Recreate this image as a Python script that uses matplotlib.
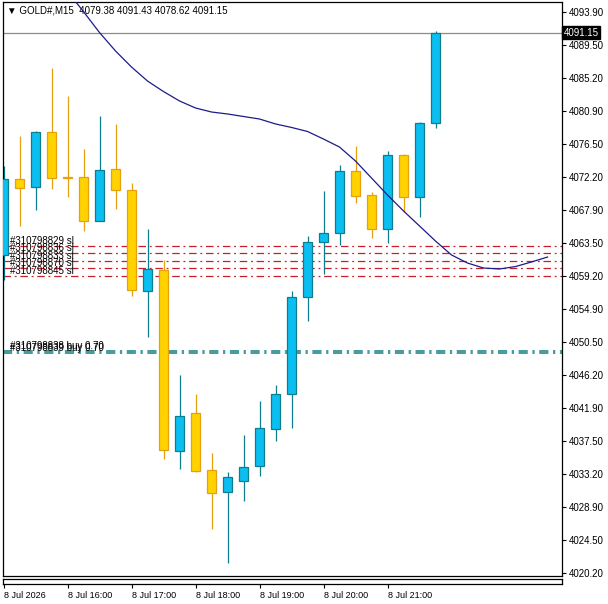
import numpy as np
import matplotlib
matplotlib.use('Agg')
import matplotlib.pyplot as plt
from matplotlib.patches import Rectangle

plt.rcParams['font.family'] = ['Liberation Sans', 'DejaVu Sans']

# GOLD#, M15 bars from 8 Jul 15:00 to 21:45
opens = [4061.98, 4071.96, 4070.87, 4078.13, 4072.20, 4072.22, 4066.48, 4073.27,
         4070.45, 4057.29, 4060.01, 4036.19, 4041.22, 4033.73, 4030.88, 4032.33,
         4034.30, 4039.16, 4043.68, 4056.42, 4063.72, 4064.83, 4073.01, 4069.82,
         4065.35, 4075.11, 4069.56, 4079.38]
highs = [4073.67, 4077.61, 4078.27, 4086.54, 4082.86, 4075.90, 4080.24, 4079.19,
         4071.39, 4065.35, 4061.32, 4046.21, 4043.72, 4035.92, 4033.43, 4038.33,
         4042.83, 4044.90, 4057.29, 4064.47, 4070.42, 4073.80, 4076.29, 4070.25,
         4075.60, 4075.24, 4079.45, 4091.43]
lows = [4058.69, 4065.83, 4067.89, 4070.65, 4069.63, 4065.17, 4066.44, 4068.08,
        4056.59, 4051.24, 4035.14, 4033.82, 4033.53, 4026.02, 4021.55, 4029.70,
        4032.98, 4037.58, 4039.29, 4053.34, 4059.48, 4063.33, 4068.77, 4064.17,
        4063.51, 4067.66, 4066.93, 4078.62]
closes = [4071.96, 4070.74, 4078.13, 4072.05, 4072.10, 4066.48, 4073.14, 4070.55,
          4057.38, 4060.10, 4036.36, 4040.83, 4033.56, 4030.75, 4032.81, 4034.09,
          4039.21, 4043.72, 4056.42, 4063.64, 4064.83, 4073.01, 4069.77, 4065.43,
          4075.11, 4069.56, 4079.38, 4091.15]

# shifted moving average, starts at bar 3 and runs past the last bar
ma_start = 3
ma_values = [4099.4, 4096.6, 4093.94, 4091.2, 4088.78, 4086.67, 4084.83, 4083.45,
             4082.21, 4081.29, 4080.76, 4080.50, 4080.17, 4079.84, 4079.19, 4078.73,
             4078.20, 4077.21, 4076.16, 4074.32, 4072.09, 4069.86, 4067.76, 4065.79,
             4063.81, 4061.98, 4060.92, 4060.27, 4060.14, 4060.46, 4061.06, 4061.71]

# open orders
sl_levels = [4063.16, 4062.20, 4061.23, 4060.23, 4059.22]
sl_labels = ['#310798829 sl', '#310798836 sl', '#310798833 sl', '#310798870 sl', '#310798845 sl']
buy_levels = [4049.40, 4049.10]
buy_labels = ['#310798838 buy 0.70', '#310798839 buy 0.70']

bid = 4091.15
title = '\u25bc GOLD#,M15  4079.38 4091.43 4078.62 4091.15'

ytick_vals = [4093.90, 4089.50, 4085.20, 4080.90, 4076.50, 4072.20, 4067.90, 4063.50,
              4059.20, 4054.90, 4050.50, 4046.20, 4041.90, 4037.50, 4033.20, 4028.90,
              4024.50, 4020.20]
xtick_idx = [0, 4, 8, 12, 16, 20, 24]
xtick_labels = ['8 Jul 2026', '8 Jul 16:00', '8 Jul 17:00', '8 Jul 18:00',
                '8 Jul 19:00', '8 Jul 20:00', '8 Jul 21:00']

W, H = 608, 604
fig = plt.figure(figsize=(W / 100, H / 100), dpi=100)
fig.patch.set_facecolor('white')

left, right, top, bottom = 2.5, 562, 2, 576
ax = fig.add_axes([left / W, (H - bottom) / H, (right - left) / W, (bottom - top) / H])
xlim = (-0.0625, 34.906)
ax.set_xlim(*xlim)
ax.set_ylim(4019.81, 4095.21)

bull_fill, bull_edge = '#0CBFF2', '#0E7D8E'
bear_fill, bear_edge = '#FFD200', '#E6A010'

x = np.arange(len(opens))
for i in x:
    o, h, l, c = opens[i], highs[i], lows[i], closes[i]
    up = c > o
    fill = bull_fill if up else bear_fill
    edge = bull_edge if up else bear_edge
    ax.vlines(i, l, h, color=edge, lw=0.9, zorder=2)
    ax.bar(i, max(abs(c - o), 0.12), bottom=min(o, c), width=0.62,
           color=fill, edgecolor=edge, lw=0.9, zorder=3)

ma_x = np.arange(ma_start, ma_start + len(ma_values))
ax.plot(ma_x, ma_values, color='#1C1C8A', lw=0.9, zorder=4)

for lvl, lab in zip(sl_levels, sl_labels):
    ax.axhline(lvl, color='#C81E2A', lw=0.9, dashes=(6, 3, 1.5, 3), zorder=1)
    ax.text(0.0134, lvl, lab, transform=ax.get_yaxis_transform(), fontsize=7,
            color='black', va='bottom', ha='left', zorder=5)
for lvl, lab in zip(buy_levels, buy_labels):
    ax.axhline(lvl, color='#107E80', lw=1.1, dashes=(6, 3, 1.5, 3), zorder=1)
    ax.text(0.0134, lvl, lab, transform=ax.get_yaxis_transform(), fontsize=7,
            color='black', va='bottom', ha='left', zorder=5)

ax.axhline(bid, color='#8C8C8C', lw=0.9, zorder=1)
ax.text(1.003, bid, '4091.15', transform=ax.get_yaxis_transform(), fontsize=7,
        color='white', va='center', ha='left',
        bbox=dict(boxstyle='square,pad=0.15', fc='black', ec='black'), zorder=6)

ax.text(0.008, 0.986, title, transform=ax.transAxes, fontsize=7, va='center',
        ha='left', color='black')

ax.yaxis.tick_right()
ax.set_yticks(ytick_vals)
ax.set_yticklabels([f'{v:.2f}' for v in ytick_vals])
ax.tick_params(axis='y', length=3, width=0.8, pad=2, labelsize=7, colors='black')
ax.set_xticks([])
for s in ax.spines.values():
    s.set_linewidth(0.9)
    s.set_color('black')

# thin strip under the chart with the time scale
ax2 = fig.add_axes([left / W, (H - 584) / H, (right - left) / W, 5 / H])
ax2.set_xlim(*xlim)
ax2.set_yticks([])
ax2.set_xticks(xtick_idx)
ax2.set_xticklabels(xtick_labels)
ax2.tick_params(axis='x', length=3, width=0.8, pad=2, labelsize=6.5)
for lab in ax2.get_xticklabels():
    lab.set_ha('left')
for s in ax2.spines.values():
    s.set_linewidth(0.9)

fig.savefig('out.png', dpi=100, facecolor='white')
